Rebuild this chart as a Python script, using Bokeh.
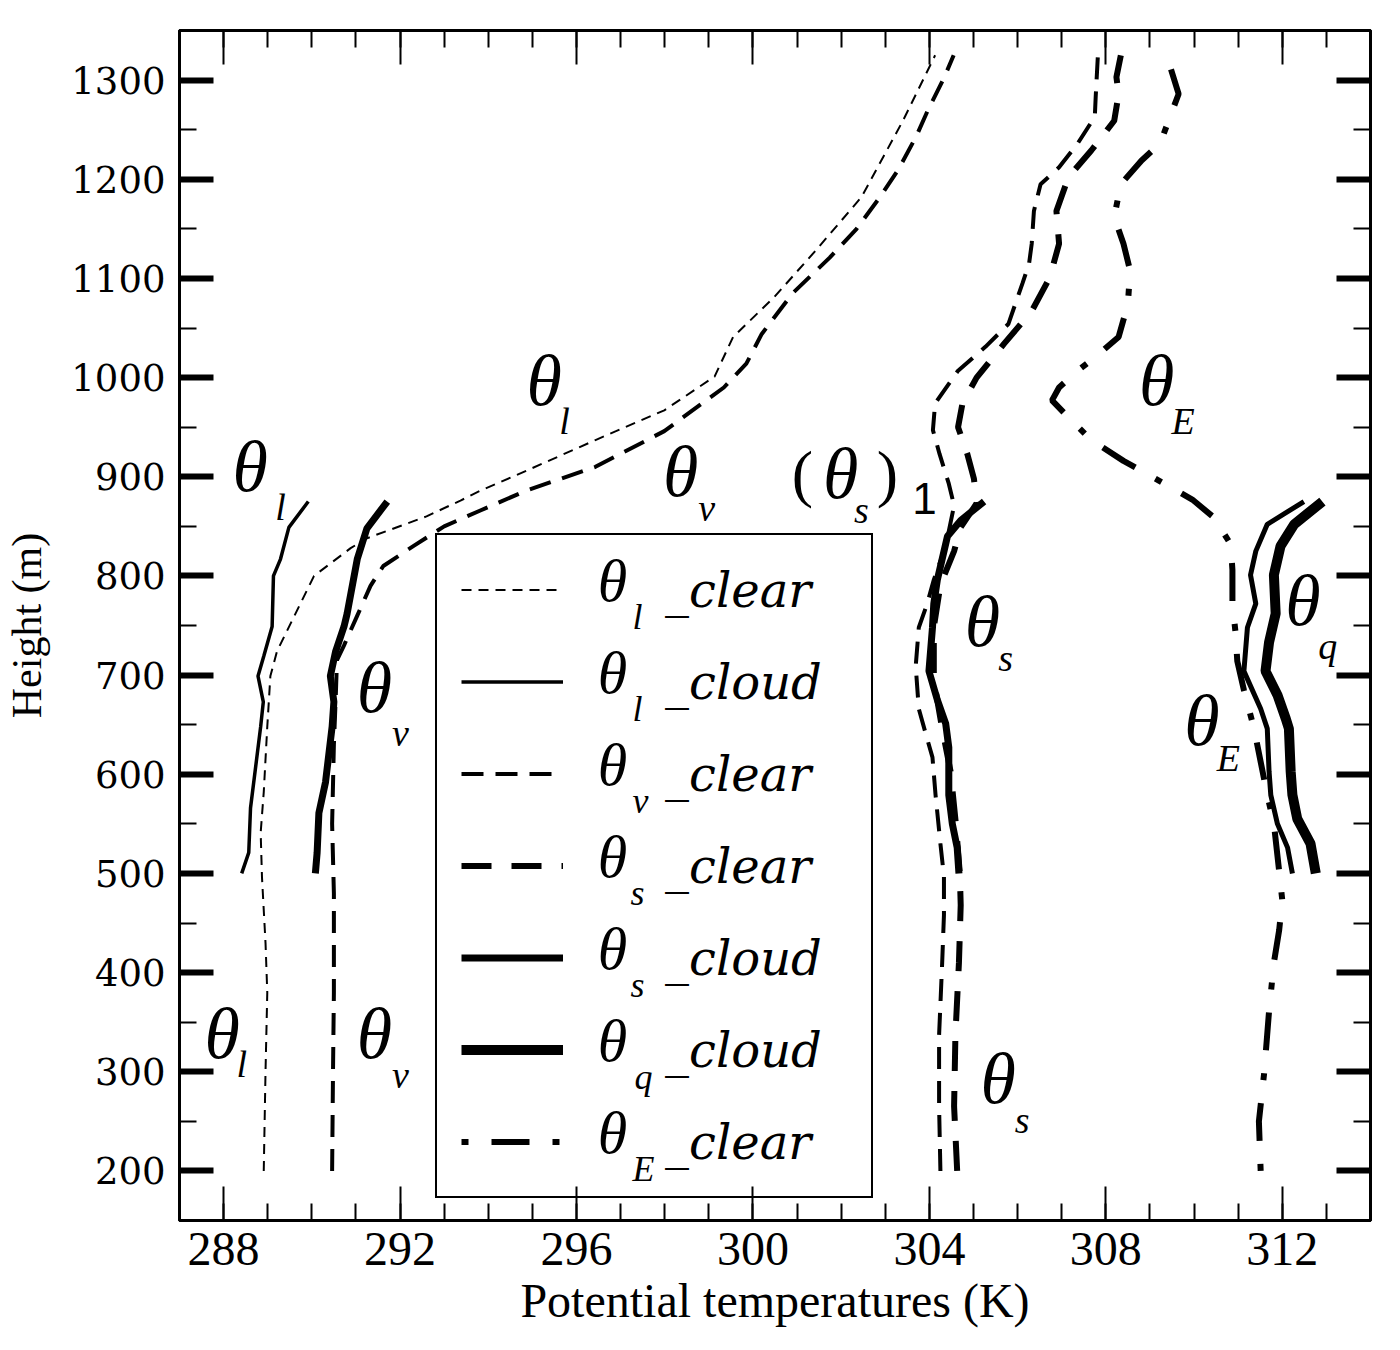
from bokeh.plotting import figure
from bokeh.models import Range1d, LinearAxis, FixedTicker, Legend, LegendItem, ColumnDataSource
from bokeh.core.properties import value
from bokeh.embed import file_html
from bokeh.resources import INLINE

# ---------------- data (heights in m, potential temperatures in K) ----------------
h_l_clear = [200, 300, 380, 430, 496, 541, 582, 648, 699, 724, 800, 828, 838, 860, 876, 886, 906, 937, 967, 1001, 1041, 1081, 1128, 1182, 1259, 1325]
T_l_clear = [288.91, 288.95, 288.99, 288.95, 288.87, 288.84, 288.91, 288.99, 289.06, 289.21, 290.05, 290.88, 291.25, 292.6, 293.37, 293.82, 294.86, 296.43, 297.99, 299.13, 299.55, 300.48, 301.42, 302.46, 303.40, 304.13]

h_v_clear = [200, 300, 380, 480, 550, 630, 675, 715, 730, 760, 790, 810, 830, 850, 866, 886, 910, 946, 990, 1014, 1044, 1085, 1121, 1150, 1182, 1210, 1244, 1270, 1303, 1325]
T_v_clear = [290.46, 290.48, 290.50, 290.50, 290.46, 290.50, 290.54, 290.57, 290.73, 291.03, 291.33, 291.62, 292.3, 293.0, 293.82, 294.86, 296.43, 297.99, 299.34, 299.85, 300.2, 300.9, 301.74, 302.35, 302.88, 303.3, 303.71, 303.97, 304.34, 304.55]

h_s1_clear = [200, 265, 337, 410, 458, 497, 530, 579, 617, 642, 666, 709, 748, 772, 796, 830, 871, 893, 923, 947, 974, 1007, 1031, 1054, 1095, 1115, 1135, 1168, 1195, 1212, 1236, 1263, 1283, 1325]
T_s1_clear = [304.25, 304.22, 304.22, 304.29, 304.33, 304.33, 304.25, 304.14, 304.07, 303.91, 303.76, 303.69, 303.76, 303.95, 304.10, 304.37, 304.56, 304.44, 304.23, 304.08, 304.13, 304.65, 305.27, 305.79, 306.11, 306.26, 306.32, 306.37, 306.52, 306.94, 307.36, 307.75, 307.77, 307.82]

h_s_clear = [200, 265, 337, 410, 468, 500, 550, 603, 646, 695, 748, 791, 825, 849, 873, 898, 923, 950, 974, 1000, 1034, 1067, 1101, 1135, 1168, 1202, 1229, 1259, 1286, 1303, 1325]
T_s_clear = [304.63, 304.56, 304.59, 304.67, 304.71, 304.69, 304.60, 304.48, 304.29, 304.10, 304.10, 304.25, 304.56, 304.71, 305.07, 305.01, 304.86, 304.65, 304.75, 305.07, 305.69, 306.32, 306.73, 306.94, 306.88, 307.15, 307.67, 308.19, 308.29, 308.24, 308.34]

h_E_clear = [200, 250, 299, 361, 410, 443, 473, 502, 550, 579, 646, 685, 714, 743, 772, 806, 832, 859, 877, 893, 916, 937, 960, 977, 990, 1007, 1021, 1041, 1074, 1108, 1135, 1162, 1195, 1219, 1236, 1273, 1286, 1325]
T_E_clear = [311.51, 311.47, 311.59, 311.70, 311.81, 311.93, 312.00, 311.93, 311.81, 311.66, 311.36, 311.13, 310.98, 310.94, 310.87, 310.87, 310.83, 310.45, 309.96, 309.33, 308.40, 307.67, 307.15, 306.78, 306.94, 307.36, 307.77, 308.29, 308.50, 308.55, 308.40, 308.19, 308.34, 308.81, 309.23, 309.54, 309.65, 309.38]

h_l_cloud = [500, 521, 566, 648, 673, 699, 719, 749, 800, 817, 849, 875]
T_l_cloud = [288.41, 288.57, 288.61, 288.84, 288.90, 288.78, 288.91, 289.10, 289.13, 289.29, 289.48, 289.92]

h_v_cloud = [500, 521, 561, 592, 648, 673, 699, 724, 749, 762, 817, 848, 875]
T_v_cloud = [290.08, 290.12, 290.16, 290.31, 290.46, 290.50, 290.42, 290.54, 290.73, 290.80, 291.03, 291.25, 291.71]

h_s_cloud = [500, 526, 550, 579, 627, 651, 675, 704, 748, 772, 796, 840, 856, 875]
T_s_cloud = [304.67, 304.63, 304.52, 304.44, 304.44, 304.37, 304.18, 303.99, 304.07, 304.10, 304.18, 304.41, 304.71, 305.24]

h_q_cloud = [500, 530, 555, 579, 603, 646, 656, 680, 704, 733, 762, 801, 830, 852, 875]
T_q_cloud = [312.76, 312.64, 312.34, 312.23, 312.19, 312.15, 312.08, 311.89, 311.62, 311.70, 311.85, 311.81, 311.96, 312.27, 312.91]

h_E_cloud = [500, 526, 550, 579, 603, 646, 666, 704, 748, 772, 801, 825, 852, 875]
T_E_cloud = [312.23, 312.12, 311.89, 311.74, 311.70, 311.66, 311.51, 311.13, 311.21, 311.40, 311.28, 311.40, 311.66, 312.49]

X_TICKS = [288, 292, 296, 300, 304, 308, 312]
X_MINOR = list(range(287, 315))
Y_TICKS = [200, 300, 400, 500, 600, 700, 800, 900, 1000, 1100, 1200, 1300]
Y_MINOR = list(range(150, 1351, 50))

LEGEND_SUBS = ["l", "l", "v", "s", "s", "q", "E"]
LEGEND_TAILS = ["_clear", "_cloud", "_clear", "_clear", "_cloud", "_cloud", "_clear"]

X0, X1 = 287, 314
Y0, Y1 = 150, 1350

# ---------------- figure ----------------
FW, FH = 1191, 1190
p = figure(frame_width=FW, frame_height=FH,
           x_range=Range1d(X0, X1), y_range=Range1d(Y0, Y1),
           output_backend="svg", toolbar_location=None,
           min_border_left=179, min_border_right=30, min_border_top=30, min_border_bottom=130,
           background_fill_color="white", border_fill_color="white")
p.grid.visible = False
p.outline_line_color = "black"
p.outline_line_width = 3

xt = FixedTicker(ticks=X_TICKS, minor_ticks=X_MINOR)
yt = FixedTicker(ticks=Y_TICKS, minor_ticks=Y_MINOR)
xa = p.xaxis[0]
ya = p.yaxis[0]
xa.ticker = xt
ya.ticker = yt
top_ax = LinearAxis(ticker=xt)
right_ax = LinearAxis(ticker=yt)
p.add_layout(top_ax, "above")
p.add_layout(right_ax, "right")

for ax, mw in ((xa, 2), (top_ax, 2), (ya, 6), (right_ax, 6)):
    ax.axis_line_width = 3
    ax.axis_line_color = "black"
    ax.major_tick_in = 34
    ax.major_tick_out = 0
    ax.minor_tick_in = 17
    ax.minor_tick_out = 0
    ax.major_tick_line_width = mw
    ax.minor_tick_line_width = 2
    ax.major_tick_line_color = "black"
    ax.minor_tick_line_color = "black"

for ax in (top_ax, right_ax):
    ax.major_label_text_color = None
    ax.major_label_text_font_size = "1px"
    ax.major_label_standoff = 0

xa.major_label_text_font = "Liberation Serif"
xa.major_label_text_font_size = "48px"
xa.major_label_text_color = "black"
xa.major_label_standoff = 12
xa.axis_label = "Potential temperatures (K)"
xa.axis_label_text_font = "Liberation Serif"
xa.axis_label_text_font_style = "normal"
xa.axis_label_text_font_size = "48px"
xa.axis_label_text_color = "black"
xa.axis_label_standoff = 6

ya.major_label_text_font = "DejaVu Serif"
ya.major_label_text_font_size = "37px"
ya.major_label_text_color = "black"
ya.major_label_standoff = 14
ya.axis_label = "Height (m)"
ya.axis_label_text_font = "Liberation Serif"
ya.axis_label_text_font_style = "normal"
ya.axis_label_text_font_size = "42px"
ya.axis_label_text_color = "black"
ya.axis_label_standoff = 18

# ---------------- lines ----------------
def ln(xs, ys, w, dash="solid"):
    return p.line(xs, ys, line_color="black", line_width=w, line_dash=dash)

r_l_clear = ln(T_l_clear, h_l_clear, 2, "10 7")
r_l_cloud = ln(T_l_cloud, h_l_cloud, 3.5)
r_v_clear = ln(T_v_clear, h_v_clear, 4, "22 12")
ln(T_s1_clear, h_s1_clear, 4, "22 12")
r_s_clear = ln(T_s_clear, h_s_clear, 6, "30 20")
r_s_cloud = ln(T_s_cloud, h_s_cloud, 7)
ln(T_v_cloud, h_v_cloud, 7)
r_q_cloud = ln(T_q_cloud, h_q_cloud, 10)
ln(T_E_cloud, h_E_cloud, 5)
r_E_clear = ln(T_E_clear, h_E_clear, 6, "7 23 38 23")

# ---------------- legend ----------------
renderers = [r_l_clear, r_l_cloud, r_v_clear, r_s_clear, r_s_cloud, r_q_cloud, r_E_clear]
items = [LegendItem(label=value(t), renderers=[r]) for t, r in zip(LEGEND_TAILS, renderers)]
PAD, GH, SP = 24, 61, 31
legend = Legend(items=items, location=(256, 22), orientation="vertical", margin=0,
                padding=PAD, spacing=SP, glyph_width=102, glyph_height=GH,
                label_height=GH, label_width=182, label_standoff=102,
                label_text_font="DejaVu Serif", label_text_font_style="italic",
                label_text_font_size="48px", label_text_color="black",
                border_line_color="black", border_line_width=2, border_line_alpha=1.0,
                background_fill_alpha=0.0)
p.add_layout(legend)

# page-pixel -> data helpers for annotation placement
FL, FB = 179, 1220
def dx(px):
    return X0 + (px - FL) * (X1 - X0) / FW
def dy(py):
    return Y0 + (FB - py) * (Y1 - Y0) / FH

def txt(xs, ys, texts, size, font="Liberation Serif", style="italic", align="center"):
    src = ColumnDataSource(dict(x=xs, y=ys, text=texts))
    r = p.text(x="x", y="y", text="text", source=src, text_font=value(font),
               text_font_style=style, text_font_size=value(size), text_align=align,
               text_baseline="middle", text_color="black")
    r.level = "overlay"
    return r

leg_top = FB - 22 - (2 * PAD + 7 * GH + 6 * SP)
rows = [leg_top + PAD + GH / 2 + k * (GH + SP) for k in range(7)]
sub_px = {"l": 637, "v": 640, "s": 637, "q": 643, "E": 643}
txt([dx(612)] * 7, [dy(r - 11) for r in rows], ["θ"] * 7, "60px")
txt([dx(sub_px[s]) for s in LEGEND_SUBS], [dy(r + 25) for r in rows], LEGEND_SUBS, "36px")

# ---------------- in-plot labels ----------------
theta_x = [288.60, 287.97, 291.42, 291.42, 295.27, 298.36, 301.99, 309.15, 305.20, 305.56, 312.47, 310.18]
theta_y = [909.6, 337.6, 687.0, 337.6, 996.1, 904.6, 902.8, 996.1, 753.5, 292.7, 775.2, 653.2]
sub_x = [289.29, 288.41, 292.01, 292.01, 295.73, 298.95, 302.46, 309.75, 305.73, 306.10, 313.03, 310.78]
sub_y = [869.3, 308.3, 641.4, 297.2, 956.7, 868.0, 866.0, 956.7, 717.7, 251.8, 729.8, 616.3]
sub_t = ["l", "l", "v", "v", "l", "v", "s", "E", "s", "s", "q", "E"]
txt(theta_x, theta_y, ["θ"] * len(theta_x), "72px")
txt(sub_x, sub_y, sub_t, "38px")
txt([301.12, 303.05], [902.8, 902.8], ["(", ")"], "64px", style="normal")
txt([303.89], [878.0], ["1"], "44px", font="Liberation Sans", style="normal")

open("out.html", "w").write(file_html(p, INLINE))
